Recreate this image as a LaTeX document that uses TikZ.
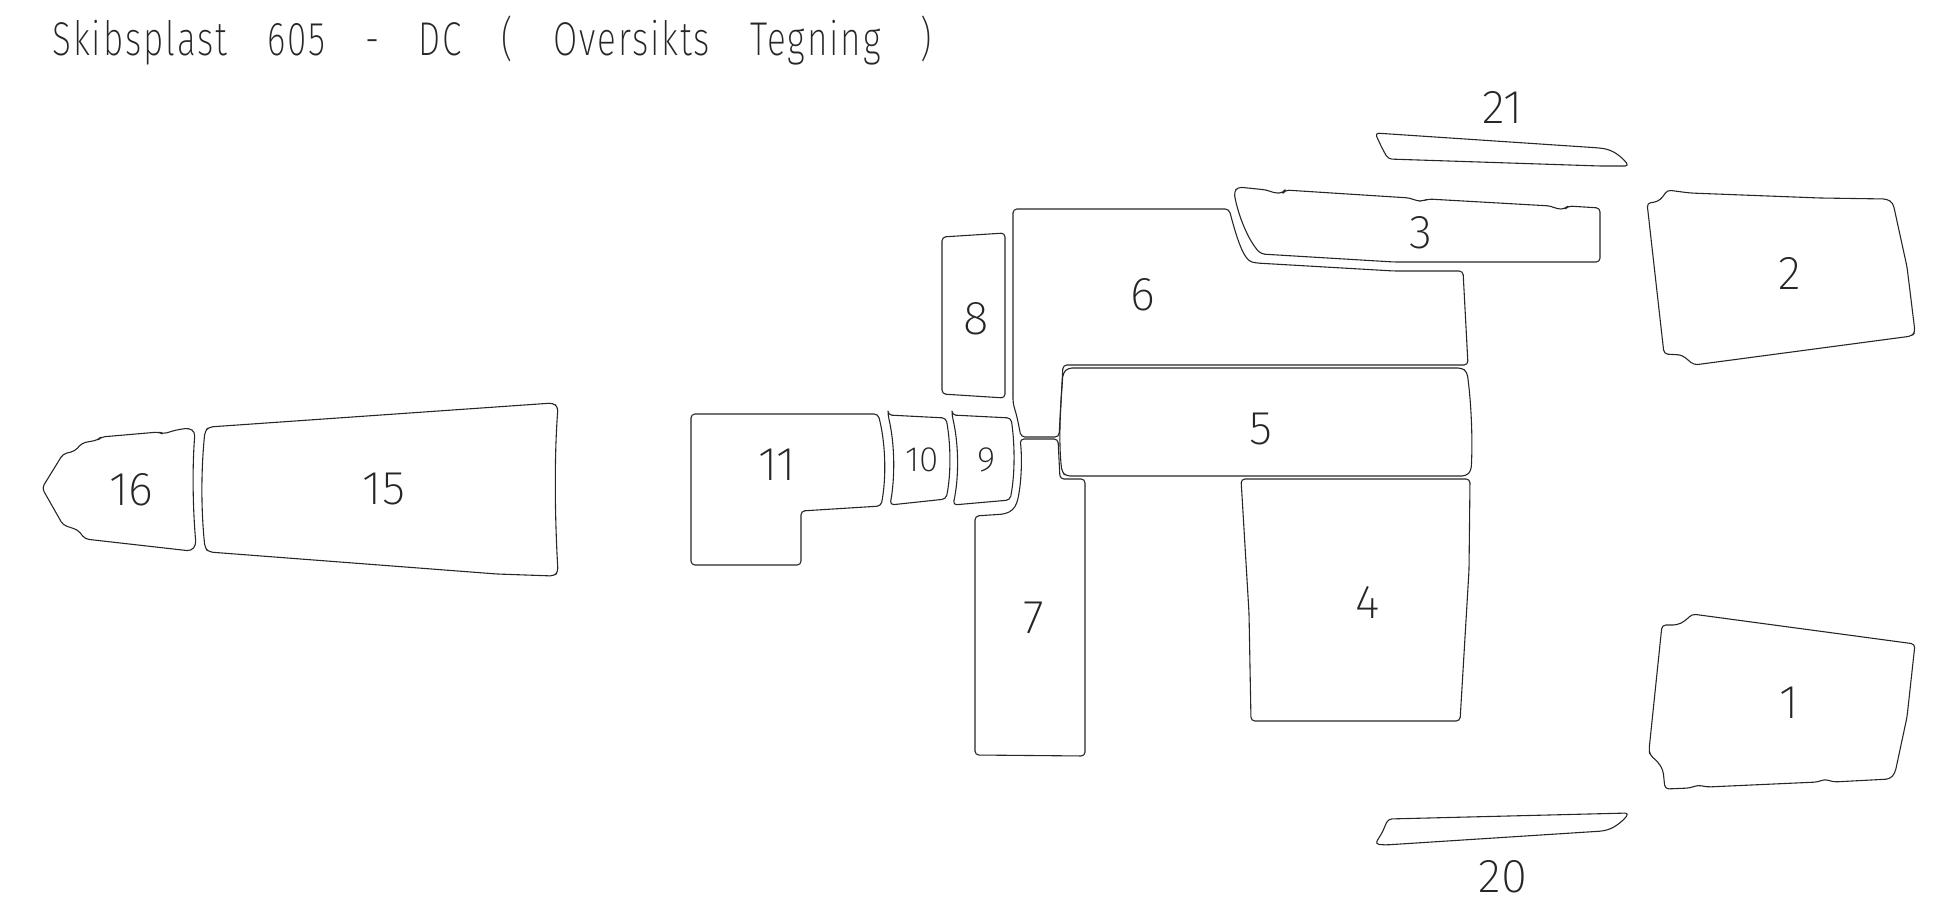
\documentclass[tikz,border=0pt]{standalone}
\usepackage{fontspec}
\setmainfont{Fira Sans}[UprightFont=* ExtraLight]
\newfontfamily\titlefont{Fira Sans}[UprightFont=* ExtraLight,LetterSpace=4,FakeStretch=0.74]
\tikzset{
    partline/.style={draw=black!85,line width=0.62pt,rounded corners=2.2pt,line join=round},
    partlabel/.style={font=\fontsize{27}{27}\selectfont,text=black!85,inner sep=0pt},
    smalllabel/.style={font=\fontsize{20}{20}\selectfont,text=black!85,inner sep=0pt},
    titlelabel/.style={font=\fontsize{27}{27}\titlefont,text=black!85,inner sep=0pt,anchor=west}
}
\begin{document}
\begin{tikzpicture}[x=0.02cm,y=-0.02cm]
    \useasboundingbox (0,0) rectangle (1946,912);

    \node[titlelabel] (title) at (52,41) {\spaceskip 0.84em\relax Skibsplast 605 - DC ( Oversikts Tegning )};

    % part 16
    \draw[partline] (42,488) -- (63,454) -- (75,451) -- (82,443) -- (98,440) -- (101,437) -- (159,432) -- (163,434) -- (176,430) -- (189,428) -- (195,432) .. controls (192,470) and (193,510) .. (196,545) -- (191,551) -- (85,539) -- (78,530) -- (63,525) -- cycle;
    \node[partlabel] (lbl16) at (131,490) {16};

    % part 15
    \draw[partline] (209,427) -- (553,403) -- (558,407) .. controls (554,460) and (555,520) .. (558,572) -- (554,576) -- (497,574) -- (209,552) -- (205,548) .. controls (201,510) and (201,470) .. (205,431) -- cycle;
    \node[partlabel] (lbl15) at (384,489) {15};

    % part 11
    \draw[partline] (691,414) -- (878,414) .. controls (885,440) and (887,475) .. (881,506) -- (801,511) -- (801,565) -- (691,565) -- cycle;
    \node[partlabel] (lbl11) at (777,465) {11};

    % part 10
    \draw[partline] (888,415) -- (946,418) .. controls (951,445) and (951,475) .. (946,499) -- (890,505) .. controls (895,478) and (895,445) .. cycle;
    \node[smalllabel] (lbl10) at (922,460) {10};

    % part 9
    \draw[partline] (952,415) -- (1011,418) .. controls (1015,445) and (1015,475) .. (1010,500) -- (953,505) .. controls (959,478) and (959,445) .. cycle;
    \node[smalllabel] (lbl9) at (987,460) {9};

    % part 8
    \draw[partline] (942,237) -- (1005,233) -- (1005,398) -- (942,394) -- cycle;
    \node[partlabel] (lbl8) at (976,319) {8};

    % part 7
    \draw[partline] (975,516) -- (1005,514) -- (1013,510) -- (1017,503) .. controls (1022,480) and (1022,455) .. (1020,439) -- (1058,439) -- (1060,479) -- (1085,479) -- (1085,756) -- (975,755) -- cycle;
    \node[partlabel] (lbl7) at (1034,618) {7};

    % part 6
    \draw[partline] (1013,209) -- (1229,209) .. controls (1236,235) and (1243,260) .. (1256,263) -- (1394,271) -- (1463,271) -- (1468,365) -- (1063,365) -- (1059,437) -- (1021,437) -- (1017,417) -- (1013,403) -- cycle;
    \node[partlabel] (lbl6) at (1143,295) {6};

    % part 5
    \draw[partline] (1068,368) -- (1462,368) -- (1467,372) .. controls (1471,400) and (1473,440) .. (1471,471) -- (1466,476) -- (1066,476) -- (1062,472) .. controls (1058,440) and (1061,400) .. (1063,373) -- cycle;
    \node[partlabel] (lbl5) at (1261,429) {5};

    % part 4
    \draw[partline] (1241,479) -- (1470,479) -- (1469,570) -- (1460,721) -- (1251,721) -- (1249,613) -- cycle;
    \node[partlabel] (lbl4) at (1368,602) {4};

    % part 3
    \draw[partline] (1238,187) -- (1267,190) -- (1274,193) -- (1283,193) -- (1285,190) -- (1410,198) -- (1417,201) -- (1423,201) -- (1428,199) -- (1551,206) -- (1557,209) -- (1565,209) -- (1568,206) -- (1600,208) -- (1600,262) -- (1394,262) -- (1261,254) .. controls (1248,240) and (1238,215) .. (1234,192) -- cycle;
    \node[partlabel] (lbl3) at (1421,233) {3};

    % part 2
    \draw[partline] (1647,203) -- (1657,202) -- (1663,197) -- (1667,190) -- (1690,193) -- (1820,198) -- (1887,199) -- (1893,203) -- (1907,267) -- (1915,332) -- (1912,336) -- (1694,365) -- (1688,360) -- (1682,355) -- (1664,354) -- cycle;
    \node[partlabel] (lbl2) at (1790,273) {2};

    % part 1
    \draw[partline] (1662,625) -- (1677,625) -- (1685,621) -- (1692,614) -- (1915,644) -- (1907,717) -- (1895,773) -- (1890,779) -- (1833,782) -- (1825,779) -- (1818,782) -- (1707,787) -- (1698,785) -- (1690,788) -- (1665,789) -- (1663,770) -- (1658,762) -- (1650,755) -- (1649,750) -- cycle;
    \node[partlabel] (lbl1) at (1789,703) {1};

    % part 21
    \draw[partline] (1375,133) -- (1600,148) .. controls (1612,150) and (1620,155) .. (1629,166) -- (1600,166) -- (1388,159) -- (1382,148) -- cycle;
    \node[partlabel] (lbl21) at (1503,107) {21};

    % part 20
    \draw[partline] (1388,819) -- (1629,813) .. controls (1622,822) and (1614,828) .. (1603,831) -- (1385,845) -- (1375,844) -- (1382,833) -- cycle;
    \node[partlabel] (lbl20) at (1503,877) {20};
\end{tikzpicture}
\end{document}
